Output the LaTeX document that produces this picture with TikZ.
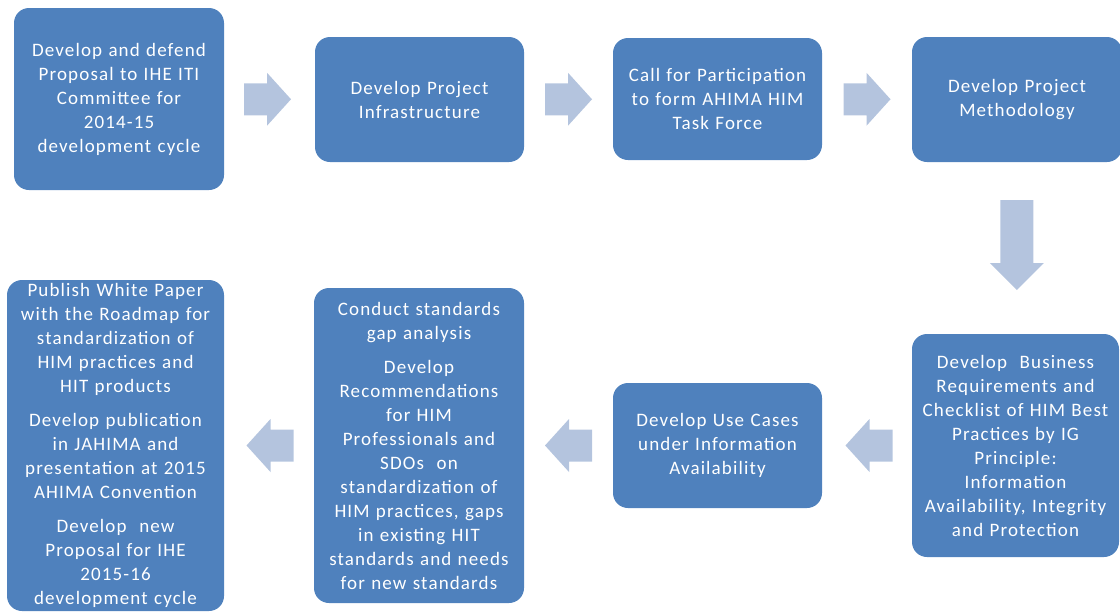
\documentclass[tikz,border=0pt]{standalone}
\usepackage{fontspec}
\setmainfont{Carlito}[LetterSpace=6]
\usetikzlibrary{calc}
\definecolor{boxblue}{HTML}{4F81BD}
\definecolor{arrowblue}{HTML}{B4C4DE}
\tikzset{
  stepbox/.style={draw=none, fill=boxblue, rounded corners=15pt, inner sep=0pt,
    text=white, align=center, font=\fontsize{19pt}{24pt}\selectfont},
  hblock/.pic={\fill[arrowblue] (-23.5,-16) -- (-0.5,-16) -- (-0.5,-26.5) -- (23.5,0)
      -- (-0.5,26.5) -- (-0.5,16) -- (-23.5,16) -- cycle;},
  vblock/.pic={\fill[arrowblue] (-16.5,-45) -- (16.5,-45) -- (16.5,18) -- (27,18)
      -- (0,45) -- (-27,18) -- (-16.5,18) -- cycle;},
}
\begin{document}
\begin{tikzpicture}[x=1pt,y=-1pt]
\useasboundingbox (0,0) rectangle (1120,611);
\node[stepbox, minimum width=210pt, minimum height=182pt, text width=204pt] (b1) at (119,99)
  {Develop and defend\\Proposal to IHE ITI\\Committee for\\2014-15\\development cycle};
\node[stepbox, minimum width=209pt, minimum height=125pt, text width=203pt] (b2) at (419.5,99.5)
  {Develop Project\\Infrastructure};
\node[stepbox, minimum width=209pt, minimum height=122pt, text width=203pt] (b3) at (717.5,99)
  {Call for Participation\\to form AHIMA HIM\\Task Force};
\node[stepbox, minimum width=210pt, minimum height=125pt, text width=204pt] (b4) at (1017,99.5)
  {Develop Project\\Methodology};
\node[stepbox, minimum width=207pt, minimum height=223pt, text width=203pt] (b5) at (1015.5,445.5)
  {Develop~ Business\\Requirements and\\Checklist of HIM Best\\Practices by IG\\Principle:\\Information\\Availability, Integrity\\and Protection};
\node[stepbox, minimum width=209pt, minimum height=125pt, text width=203pt] (b6) at (717.5,445.5)
  {Develop Use Cases\\under Information\\Availability};
\node[stepbox, minimum width=210pt, minimum height=315pt, text width=204pt] (b7) at (419,445.5)
  {Conduct standards\\gap analysis\\[10pt]Develop\\Recommendations\\for HIM\\Professionals and\\SDOs~ on\\standardization of\\HIM practices, gaps\\in existing HIT\\standards and needs\\for new standards};
\node[stepbox, minimum width=217pt, minimum height=331pt, text width=211pt] (b8) at (115.5,445.5)
  {Publish White Paper\\with the Roadmap for\\standardization of\\HIM practices and\\HIT products\\[10pt]Develop publication\\in JAHIMA and\\presentation at 2015\\AHIMA Convention\\[10pt]Develop~ new\\Proposal for IHE\\2015-16\\development cycle};
\coordinate (a1) at ($(b1.east)!0.5!(b2.west)+(-2,0)$);
\coordinate (a2) at ($(b2.east)!0.5!(b3.west)$);
\coordinate (a3) at ($(b3.east)!0.5!(b4.west)$);
\coordinate (a4) at ($(b4.south)!0.5!(b5.north)+(0.5,-3)$);
\coordinate (a5) at ($(b5.west)!0.5!(b6.east)+(2,0)$);
\coordinate (a6) at ($(b6.west)!0.5!(b7.east)$);
\coordinate (a7) at ($(b7.west)!0.5!(b8.east)+(1,0)$);
\pic at (a1) {hblock};
\pic at (a2) {hblock};
\pic at (a3) {hblock};
\pic at (a4) {vblock};
\pic[rotate=180] at (a5) {hblock};
\pic[rotate=180] at (a6) {hblock};
\pic[rotate=180] at (a7) {hblock};
\end{tikzpicture}
\end{document}
